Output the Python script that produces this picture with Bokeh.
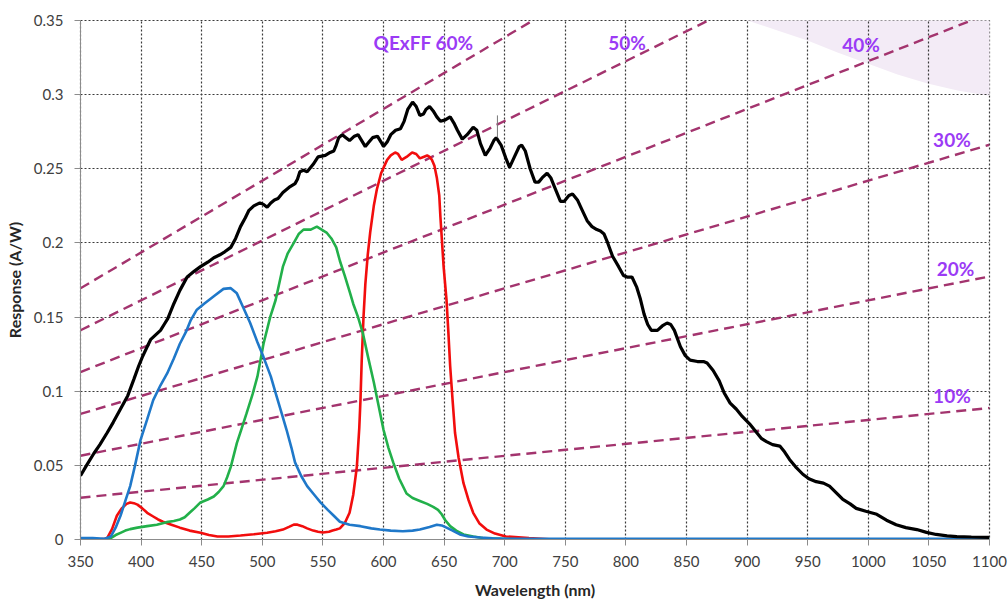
from bokeh.plotting import figure
from bokeh.models import Range1d, FixedTicker, PolyAnnotation, Label
from bokeh.embed import file_html
from bokeh.resources import INLINE

# ---------------- data ----------------
x_ticks = [350, 400, 450, 500, 550, 600, 650, 700, 750, 800, 850, 900, 950, 1000, 1050, 1100]
y_ticks = [0, 0.05, 0.1, 0.15, 0.2, 0.25, 0.3, 0.35]
y_tick_labels = ["0", "0.05", "0.1", "0.15", "0.2", "0.25", "0.3", "0.35"]

black_wl = [350, 355, 361, 366, 372, 377, 383, 389, 394, 398, 401, 405, 408, 412, 416, 419, 422, 427, 432, 438,
            444, 449, 455, 460, 465, 469, 474, 478, 482, 486, 489, 493, 498, 501, 504, 507, 510, 513, 517, 520,
            523, 527, 529, 531, 534, 537, 540, 542, 546, 552, 556, 559, 561, 563, 566, 569, 572, 576, 579, 582,
            585, 588, 591, 595, 598, 600, 603, 606, 610, 614, 617, 620, 624, 627, 630, 633, 635, 638, 641, 644,
            647, 651, 655, 658, 661, 665, 669, 674, 677, 680, 684, 688, 691, 693, 697, 701, 704, 708, 712, 714,
            717, 721, 725, 728, 731, 735, 738, 742, 746, 749, 753, 756, 760, 764, 768, 772, 776, 779, 782, 785,
            789, 794, 798, 801, 805, 809, 812, 815, 818, 821, 826, 830, 834, 837, 840, 845, 849, 853, 859, 864,
            867, 872, 877, 881, 886, 891, 896, 902, 908, 912, 916, 921, 927, 931, 935, 940, 946, 951, 957, 963,
            968, 973, 979, 985, 990, 998, 1007, 1015, 1023, 1031, 1040, 1048, 1056, 1065, 1073, 1085, 1100]
black_resp = [0.043, 0.050, 0.058, 0.064, 0.072, 0.079, 0.088, 0.097, 0.108, 0.117, 0.123, 0.130, 0.135, 0.138,
              0.141, 0.145, 0.149, 0.159, 0.168, 0.177, 0.181, 0.184, 0.187, 0.190, 0.192, 0.194, 0.197, 0.203,
              0.211, 0.217, 0.222, 0.225, 0.227, 0.226, 0.224, 0.227, 0.229, 0.230, 0.234, 0.236, 0.238, 0.240,
              0.243, 0.248, 0.249, 0.248, 0.251, 0.253, 0.258, 0.259, 0.261, 0.262, 0.266, 0.271, 0.273, 0.271,
              0.269, 0.272, 0.273, 0.269, 0.265, 0.268, 0.271, 0.272, 0.268, 0.265, 0.268, 0.273, 0.276, 0.277,
              0.282, 0.290, 0.295, 0.292, 0.286, 0.287, 0.290, 0.292, 0.289, 0.285, 0.282, 0.283, 0.285, 0.281,
              0.276, 0.270, 0.273, 0.278, 0.276, 0.267, 0.259, 0.264, 0.269, 0.271, 0.266, 0.257, 0.251, 0.258,
              0.265, 0.266, 0.262, 0.250, 0.241, 0.241, 0.244, 0.247, 0.244, 0.236, 0.228, 0.228, 0.232, 0.233,
              0.229, 0.222, 0.215, 0.211, 0.209, 0.208, 0.206, 0.200, 0.191, 0.184, 0.178, 0.177, 0.177, 0.170,
              0.162, 0.152, 0.145, 0.141, 0.141, 0.144, 0.146, 0.145, 0.141, 0.130, 0.124, 0.121, 0.120, 0.120,
              0.119, 0.114, 0.107, 0.099, 0.092, 0.088, 0.083, 0.078, 0.072, 0.068, 0.066, 0.064, 0.063, 0.059,
              0.054, 0.049, 0.044, 0.041, 0.039, 0.038, 0.036, 0.032, 0.027, 0.024, 0.021, 0.019, 0.017, 0.013,
              0.010, 0.008, 0.0067, 0.0048, 0.0034, 0.0025, 0.0020, 0.0017, 0.0015]

blue_wl = [350, 360, 370, 375, 379, 383, 387, 391, 395, 399.5, 405, 410, 416, 421.5, 427, 432, 437, 441, 446, 452,
           460, 468, 474, 479, 484, 490, 496, 501, 507, 512, 516, 520, 524, 527, 532, 537, 543, 548, 554, 559,
           564, 572, 581, 590, 597, 606, 616, 624, 630, 638, 644, 648, 652, 657, 663, 670, 680, 690, 701, 750,
           800, 900, 1000, 1100]
blue_resp = [0.001, 0.001, 0.0005, 0.002, 0.008, 0.016, 0.026, 0.036, 0.050, 0.067, 0.081, 0.094, 0.104, 0.112,
             0.122, 0.132, 0.140, 0.148, 0.155, 0.159, 0.164, 0.169, 0.1695, 0.166, 0.157, 0.146, 0.133, 0.123,
             0.110, 0.096, 0.085, 0.074, 0.062, 0.052, 0.043, 0.036, 0.030, 0.025, 0.020, 0.016, 0.012, 0.010,
             0.009, 0.0075, 0.0067, 0.006, 0.0056, 0.006, 0.0067, 0.0085, 0.010, 0.0095, 0.008, 0.006, 0.0034,
             0.002, 0.0013, 0.0008, 0.0005, 0.0005, 0.0005, 0.0005, 0.0005, 0.0005]

green_wl = [350, 370, 375, 379, 383, 387, 391, 397, 405, 413, 421, 427, 432, 436, 440, 444, 449, 455, 460, 464,
            468, 471, 474, 479, 483, 487, 492, 496, 501, 506.5, 511, 517, 521, 526, 530, 534, 540, 545, 549, 553,
            557, 561, 564, 568, 572.5, 575, 579, 583, 587, 592, 596, 600, 604, 608, 613, 619, 624, 630, 636, 641,
            645, 648, 651, 655, 660, 666, 674, 682, 700, 720, 1100]
green_resp = [0.0, 0.0, 0.001, 0.003, 0.0045, 0.006, 0.007, 0.008, 0.009, 0.010, 0.0117, 0.0125, 0.0135, 0.015,
              0.018, 0.021, 0.025, 0.027, 0.029, 0.032, 0.036, 0.042, 0.049, 0.065, 0.075, 0.085, 0.098, 0.110,
              0.132, 0.150, 0.1615, 0.184, 0.193, 0.200, 0.206, 0.209, 0.209, 0.211, 0.209, 0.207, 0.203, 0.197,
              0.188, 0.178, 0.166, 0.159, 0.150, 0.139, 0.124, 0.106, 0.090, 0.074, 0.062, 0.052, 0.041, 0.031,
              0.028, 0.026, 0.024, 0.022, 0.020, 0.017, 0.013, 0.009, 0.006, 0.0034, 0.002, 0.001, 0.0003, 0.0,
              0.0]

red_wl = [350, 365, 370, 372, 376, 380, 384, 388, 391, 394, 397, 401, 405, 410, 414, 418, 425, 432, 440, 449, 456,
          463, 472, 482, 493, 504, 511, 517, 522, 526, 529, 533, 537, 542, 546, 550, 555, 558, 561, 564, 568, 572,
          575, 578, 580, 581, 582, 583.5, 585, 587, 589, 592, 594.5, 598, 603, 606, 609.6, 612, 615, 619, 623.6,
          627, 630, 633, 636, 638, 640, 642, 644, 646, 647, 649.6, 652, 653.5, 655, 657, 659, 662, 666, 670, 674,
          679, 685, 692, 701, 720, 740, 760]
red_resp = [0.0, 0.0, 0.0005, 0.001, 0.007, 0.016, 0.021, 0.024, 0.025, 0.0245, 0.0235, 0.021, 0.018, 0.0155,
            0.0135, 0.012, 0.010, 0.008, 0.006, 0.0045, 0.003, 0.002, 0.002, 0.0027, 0.0035, 0.0045, 0.0055, 0.0067,
            0.0085, 0.010, 0.010, 0.009, 0.0075, 0.006, 0.0052, 0.0047, 0.0052, 0.006, 0.0067, 0.0075, 0.011, 0.018,
            0.030, 0.049, 0.075, 0.094, 0.120, 0.150, 0.172, 0.192, 0.207, 0.225, 0.236, 0.247, 0.256, 0.259, 0.261,
            0.260, 0.256, 0.258, 0.261, 0.260, 0.257, 0.258, 0.259, 0.258, 0.256, 0.252, 0.244, 0.232, 0.217, 0.184,
            0.1615, 0.140, 0.117, 0.094, 0.072, 0.055, 0.038, 0.027, 0.018, 0.011, 0.0067, 0.004, 0.002, 0.001, 0.0,
            0.0]

# quantum-efficiency x fill-factor reference lines
qe_labels = ["10%", "20%", "30%", "40%", "50%", "QExFF 60%"]
qe_wl_start = [350, 350, 350, 350, 350, 350]
qe_wl_end = [1100, 1100, 1100, 1100, 1100, 1100]
qe_resp_start = [0.0282, 0.0565, 0.0847, 0.1129, 0.1411, 0.1694]
qe_resp_end = [0.0887, 0.1774, 0.2662, 0.3549, 0.4436, 0.5323]
qe_label_x = [1069, 1072, 1069, 994, 801, 633]
qe_label_y = [0.097, 0.183, 0.270, 0.334, 0.335, 0.335]

# small vertical marker seen near 694 nm
mark_x = [694, 694]
mark_y = [0.271, 0.286]

# ---------------- figure ----------------
FONT = "Lato"
W, H = 1008, 601
FL, FR, FT, FB = 80, 989, 20, 540   # frame edges in canvas pixels
p = figure(width=W, height=H, output_backend="svg", toolbar_location=None,
           x_range=Range1d(350, 1100), y_range=Range1d(0, 0.35),
           min_border_left=FL, min_border_right=W - FR, min_border_top=FT, min_border_bottom=H - FB,
           background_fill_color="white", border_fill_color="white")

# decorative lavender arc in the top-right corner of the slide (canvas pixels)
LAV = "#F3EBF6"
arc_x = [693, 720, 747, 777, 807, 837, 867, 897, 927, 957, 987, 1008, 1008]
arc_y = [0, 10, 20, 30, 40, 52, 63, 74, 83, 90, 95, 98, 0]
# inside the frame (under the grid)
p.add_layout(PolyAnnotation(xs=arc_x, ys=arc_y, xs_units="canvas", ys_units="canvas",
                            fill_color=LAV, fill_alpha=1.0, line_alpha=0, level="image"))
# outside the frame: strip above and strip to the right, attached as plain renderers
p.renderers.append(PolyAnnotation(xs=[693, 720, 746, 1008, 1008], ys=[0, 10, FT - 0.6, FT - 0.6, 0],
                                  xs_units="canvas", ys_units="canvas",
                                  fill_color=LAV, fill_alpha=1.0, line_alpha=0, level="overlay"))
p.renderers.append(PolyAnnotation(xs=[FR + 0.8, FR + 0.8, 1008, 1008], ys=[FT - 0.6, 95.3, 98, FT - 0.6],
                                  xs_units="canvas", ys_units="canvas",
                                  fill_color=LAV, fill_alpha=1.0, line_alpha=0, level="annotation"))

p.xaxis.ticker = FixedTicker(ticks=x_ticks)
p.yaxis.ticker = FixedTicker(ticks=y_ticks)
p.yaxis.major_label_overrides = {t: s for t, s in zip(y_ticks, y_tick_labels)}

for g in (p.xgrid, p.ygrid):
    g.grid_line_color = "#3a3a3a"
    g.grid_line_dash = "2 2"
    g.grid_line_width = 1.2
p.outline_line_color = "#3a3a3a"
p.outline_line_dash = "2 2"
p.outline_line_width = 1.2

for ax in (p.xaxis, p.yaxis):
    ax.axis_line_color = "#8c8c8c"
    ax.axis_line_width = 1
    ax.major_tick_line_color = "#8c8c8c"
    ax.major_tick_out = 6
    ax.major_tick_in = 0
    ax.minor_tick_line_color = None
    ax.major_label_text_font = FONT
    ax.major_label_text_font_size = "15px"
    ax.major_label_text_color = "#404040"
    ax.axis_label_text_font = FONT
    ax.axis_label_text_font_style = "bold"
    ax.axis_label_text_font_size = "16px"
    ax.axis_label_text_color = "#262626"
p.yaxis.major_label_standoff = 11
p.xaxis.major_label_standoff = 10
p.xaxis.axis_label = "Wavelength (nm)"
p.yaxis.axis_label = "Response (A/W)"
p.xaxis.axis_label_standoff = 10
p.yaxis.axis_label_standoff = 7

# QE lines
p.segment(x0=qe_wl_start, y0=qe_resp_start, x1=qe_wl_end, y1=qe_resp_end,
          line_color="#A3346E", line_width=2.4, line_dash="10 6")

for lab, lx, ly in zip(qe_labels, qe_label_x, qe_label_y):
    p.add_layout(Label(x=lx, y=ly, text=lab, text_font=FONT, text_font_style="bold",
                       text_font_size="19px", text_color="#9B3BF5",
                       text_align="center", text_baseline="middle"))

p.line(red_wl, red_resp, line_color="#F20D0D", line_width=2.6)
p.line(green_wl, green_resp, line_color="#22B04A", line_width=2.6)
p.line(blue_wl, blue_resp, line_color="#1F78C9", line_width=2.6)
p.line(black_wl, black_resp, line_color="black", line_width=3.2)
p.line(mark_x, mark_y, line_color="#777777", line_width=1)

open("out.html", "w").write(file_html(p, INLINE))
